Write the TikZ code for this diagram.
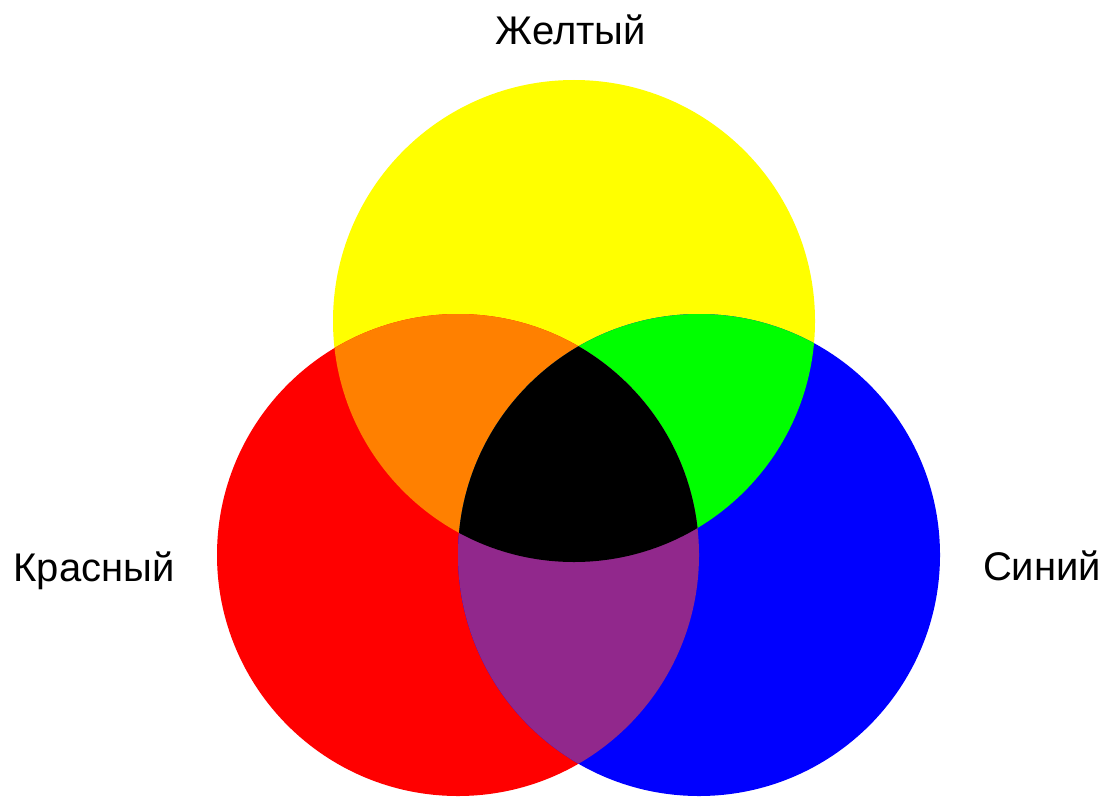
\documentclass[tikz,border=0pt]{standalone}
\usepackage{fontspec}
\setmainfont{Liberation Sans}
\usepackage{xcolor}
\usepackage{tikz}
\definecolor{yellowink}{RGB}{255,255,0}
\definecolor{redink}{RGB}{255,0,0}
\definecolor{blueink}{RGB}{0,0,255}
\definecolor{orangemix}{RGB}{255,128,0}
\definecolor{greenmix}{RGB}{0,255,0}
\definecolor{purplemix}{RGB}{145,40,140}

\begin{document}
\begin{tikzpicture}[
  x=1pt, y=-1pt,
  colorlabel/.style={font=\fontsize{40}{48}\selectfont, text=black,
                     anchor=base, inner sep=0pt},
]
\def\rad{241}
\useasboundingbox (0,0) rectangle (1107,797);

% =================================================================
% CENTRES OF THE THREE CIRCLES
% =================================================================
\coordinate (yc) at (574, 321);
\coordinate (rc) at (458, 555);
\coordinate (bc) at (699, 555);

% =================================================================
% BASE COLOURS
% =================================================================
\fill[yellowink] (yc) circle[radius=\rad];
\fill[redink]    (rc) circle[radius=\rad];
\fill[blueink]   (bc) circle[radius=\rad];

% =================================================================
% PAIRWISE MIXTURES
% =================================================================
\begin{scope}
  \clip (yc) circle[radius=\rad];
  \fill[orangemix] (rc) circle[radius=\rad];
  \fill[greenmix]  (bc) circle[radius=\rad];
\end{scope}
\begin{scope}
  \clip (rc) circle[radius=\rad];
  \fill[purplemix] (bc) circle[radius=\rad];
\end{scope}

% all three
\begin{scope}
  \clip (yc) circle[radius=\rad];
  \clip (rc) circle[radius=\rad];
  \fill[black] (bc) circle[radius=\rad];
\end{scope}

% =================================================================
% LABELS
% =================================================================
\node[colorlabel] (yellowlabel) at (571, 45)  {Желтый};
\node[colorlabel] (redlabel)    at (94, 581)  {Красный};
\node[colorlabel] (bluelabel)   at (1042, 580) {Синий};

\end{tikzpicture}
\end{document}
